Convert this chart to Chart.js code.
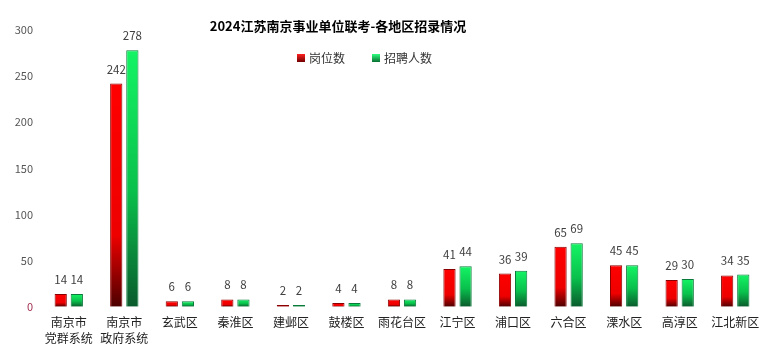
<!DOCTYPE html>
<html>
<head>
<meta charset="utf-8">
<script src="https://cdn.jsdelivr.net/npm/chart.js@4/dist/chart.umd.min.js"></script>
<style>
html,body{margin:0;padding:0;background:#fff;}
#wrap{position:relative;width:769px;height:356px;}
</style>
</head>
<body>
<div id="wrap"><canvas id="c" width="769" height="356"></canvas></div>
<script>
const titleText = '2024江苏南京事业单位联考-各地区招录情况';
const categories = [['南京市','党群系统'],['南京市','政府系统'],'玄武区','秦淮区','建邺区','鼓楼区','雨花台区','江宁区','浦口区','六合区','溧水区','高淳区','江北新区'];
const seriesNames = ['岗位数','招聘人数'];
const posts = [14,242,6,8,2,4,8,41,36,65,45,29,34];
const hires = [14,278,6,8,2,4,8,44,39,69,45,30,35];
const yTicks = [0,50,100,150,200,250,300];

const FONT = '"Noto Sans CJK SC","Noto Sans",sans-serif';

function grad(ctx, kind){
  const fallback = kind==='r' ? '#ff0000' : '#10f060';
  const chart = ctx.chart;
  const y = chart.scales && chart.scales.y;
  if (!y || !ctx.parsed) return fallback;
  const top = y.getPixelForValue(ctx.parsed.y);
  const bot = y.getPixelForValue(0);
  if (!isFinite(top) || !isFinite(bot) || bot - top < 0.5) return fallback;
  const g = chart.ctx.createLinearGradient(0, top, 0, bot);
  if (kind === 'r') {
    g.addColorStop(0, '#ff0000');
    g.addColorStop(0.68, '#ee0000');
    g.addColorStop(1, '#4c0000');
  } else {
    g.addColorStop(0, '#14f464');
    g.addColorStop(0.55, '#09c04c');
    g.addColorStop(1, '#0a5a2c');
  }
  return g;
}

const overlay = {
  id: 'overlay',
  afterDatasetsDraw(chart){
    const c = chart.ctx;
    c.save();
    c.font = 'bold 13px ' + FONT;
    c.fillStyle = '#000';
    c.textAlign = 'center';
    c.textBaseline = 'middle';
    c.fillText(titleText, 338, 26);
    c.font = '12px ' + FONT;
    c.textAlign = 'left';
    const items = [{x:297, col:['#ff2020','#700000'], t:seriesNames[0]},{x:372, col:['#30ff80','#087030'], t:seriesNames[1]}];
    items.forEach(it=>{
      const g = c.createLinearGradient(0,54,0,62);
      g.addColorStop(0,it.col[0]); g.addColorStop(1,it.col[1]);
      c.fillStyle = g;
      c.fillRect(it.x, 54, 8, 8);
      c.fillStyle = '#333';
      c.fillText(it.t, it.x + 12, 58);
    });
    c.font = '11.5px ' + FONT;
    c.fillStyle = '#404040';
    c.textAlign = 'center';
    c.textBaseline = 'alphabetic';
    chart.data.datasets.forEach((ds, di)=>{
      const meta = chart.getDatasetMeta(di);
      meta.data.forEach((bar, i)=>{
        c.fillText(String(ds.data[i]), bar.x, bar.y - 10);
      });
    });
    c.restore();
  }
};

new Chart(document.getElementById('c'), {
  type: 'bar',
  data: {
    labels: categories,
    datasets: [
      {label: seriesNames[0], data: posts, backgroundColor: ctx=>grad(ctx,'r'), borderColor: '#8a0000', borderWidth: 1, borderSkipped: 'bottom'},
      {label: seriesNames[1], data: hires, backgroundColor: ctx=>grad(ctx,'g'), borderColor: '#0a7a3a', borderWidth: 1, borderSkipped: 'bottom'}
    ]
  },
  options: {
    responsive: false,
    animation: false,
    devicePixelRatio: 1,
    categoryPercentage: 0.58,
    barPercentage: 0.76,
    layout: {padding: {top: 30, right: 6, left: 0, bottom: 2}},
    plugins: {legend: {display: false}, title: {display: false}, tooltip: {enabled: false}},
    scales: {
      x: {
        grid: {display: false, drawTicks: false},
        border: {display: false},
        ticks: {color: '#222', font: {family: FONT, size: 12, lineHeight: 1.3}, padding: 8, maxRotation: 0, autoSkip: false}
      },
      y: {
        min: 0, max: 300,
        afterFit(s){ s.width = 41; },
        afterBuildTicks(s){ s.ticks = yTicks.map(v=>({value:v})); },
        grid: {display: false, drawTicks: false},
        border: {display: false},
        ticks: {color: c=> c.tick && c.tick.value === 0 ? '#a03050' : '#555', font: {family: FONT, size: 11}, padding: 8}
      }
    }
  },
  plugins: [overlay]
});
</script>
</body>
</html>
